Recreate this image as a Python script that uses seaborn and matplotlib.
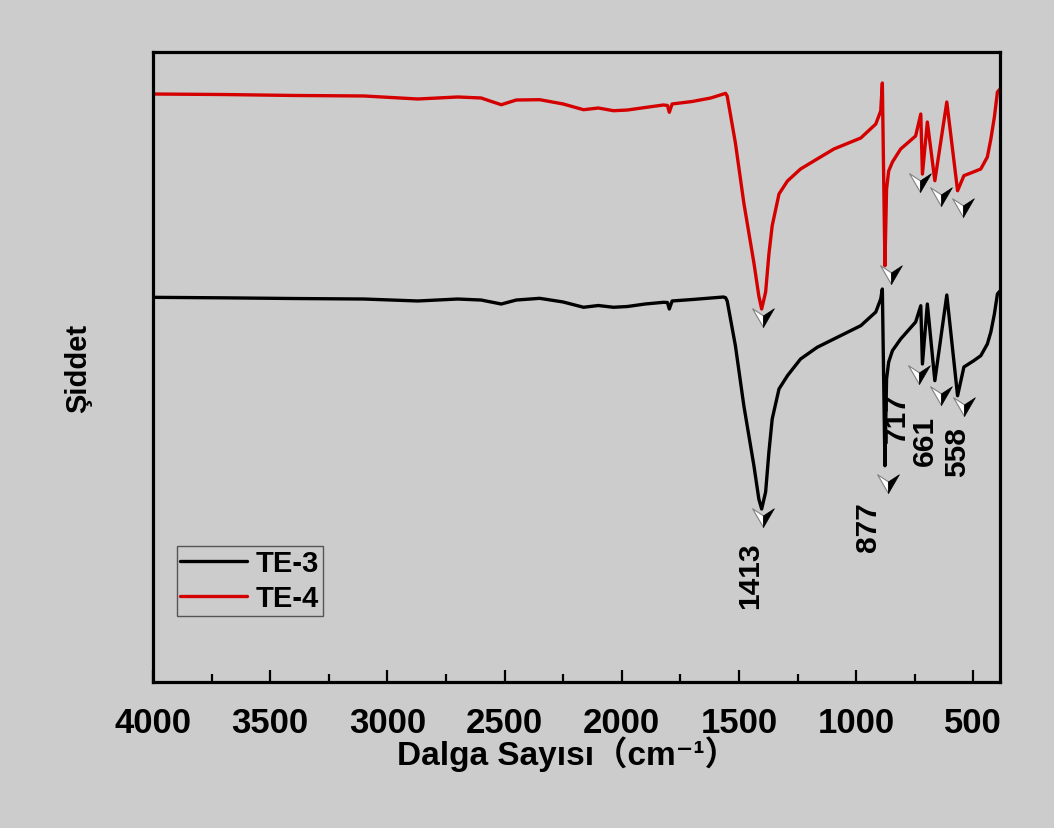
import numpy as np
import pandas as pd
import matplotlib
matplotlib.use("Agg")
import matplotlib.pyplot as plt
from matplotlib.path import Path
from matplotlib.ticker import MultipleLocator
import seaborn as sns

# ---------------- data ----------------
wavenumber = [4000, 3700, 3400, 3100, 2870, 2700, 2600, 2514, 2450, 2350, 2250, 2163,
              2100, 2035, 1976, 1900, 1822, 1805, 1797, 1785, 1700, 1620, 1566, 1557,
              1550, 1515, 1479, 1436, 1415, 1403, 1386, 1372, 1358, 1329, 1293, 1237,
              1166, 1095, 980, 916, 895, 888, 877, 870, 861, 845, 810, 746, 724, 717,
              696, 664, 613, 567, 540, 500, 468, 440, 425, 410, 397, 386]

te3 = [61.06, 60.98, 60.87, 60.79, 60.48, 60.79, 60.63, 60.00, 60.63, 60.90, 60.32, 59.48,
       59.76, 59.48, 59.60, 60.00, 60.27, 60.24, 59.21, 60.48, 60.71, 60.95, 61.11, 61.00,
       60.48, 53.38, 43.86, 34.33, 29.05, 27.46, 30.16, 36.51, 41.75, 46.51, 48.62, 51.27,
       53.13, 54.44, 56.56, 58.73, 60.79, 62.38, 34.33, 48.10, 50.79, 52.59, 54.44, 57.14,
       59.73, 50.48, 60.00, 47.83, 61.43, 45.44, 50.00, 50.95, 51.79, 53.65, 55.56, 58.41,
       61.59, 62.06]

te4 = [93.33, 93.25, 93.10, 93.02, 92.54, 92.86, 92.70, 91.63, 92.38, 92.43, 91.75, 90.84,
       91.11, 90.68, 90.79, 91.19, 91.59, 91.51, 90.43, 91.75, 92.14, 92.70, 93.33, 93.44,
       93.02, 85.56, 76.03, 66.51, 61.27, 59.21, 61.90, 67.94, 72.43, 77.46, 79.52, 81.43,
       83.02, 84.60, 86.35, 88.57, 90.63, 95.08, 66.08, 78.25, 81.11, 82.54, 84.60, 86.67,
       90.16, 80.63, 88.89, 79.57, 92.06, 77.98, 80.37, 80.95, 81.43, 83.33, 86.19, 89.68,
       93.65, 94.13]

series_names = ["TE-3", "TE-4"]
series_colors = ["#000000", "#d40000"]

# peak annotations
peak_labels = ["1413", "877", "717", "661", "558"]
peak_label_w = [1454, 948, 827, 707, 570]
peak_label_y = [17.1, 24.8, 42.1, 38.5, 36.6]

arrow_w_te3 = [1398, 862, 731, 636, 539]
arrow_y_te3 = [24.6, 30.0, 47.3, 44.0, 42.2]
arrow_w_te4 = [1398, 852, 728, 639, 546]
arrow_y_te4 = [56.3, 63.2, 77.8, 75.6, 73.8]

xticks = [4000, 3500, 3000, 2500, 2000, 1500, 1000, 500]

# ---------------- style ----------------
BG = "#cccccc"
sns.set_style("ticks", rc={"axes.facecolor": BG, "figure.facecolor": BG,
                           "axes.edgecolor": "black", "text.color": "black",
                           "axes.labelcolor": "black", "xtick.color": "black",
                           "ytick.color": "black"})
plt.rcParams["font.family"] = ["Liberation Sans", "DejaVu Sans", "Noto Sans CJK SC"]
plt.rcParams["font.weight"] = "bold"

df = pd.concat([
    pd.DataFrame({"w": wavenumber, "I": te3, "sample": series_names[0]}),
    pd.DataFrame({"w": wavenumber, "I": te4, "sample": series_names[1]}),
])

fig = plt.figure(figsize=(10.54, 8.29), dpi=100)
ax = fig.add_axes([153 / 1054, 1 - 683 / 829, 847 / 1054, 630 / 829])

sns.lineplot(data=df, x="w", y="I", hue="sample", hue_order=series_names,
             palette=dict(zip(series_names, series_colors)), sort=False,
             estimator=None, linewidth=2.4, ax=ax)

ax.set_xlim(4000, 386)
ax.set_ylim(0, 100)
ax.set_xticks(xticks)
ax.xaxis.set_minor_locator(MultipleLocator(250))
ax.set_yticks([])
ax.tick_params(axis="x", which="major", direction="in", length=9, width=1.6,
               labelsize=25, pad=17, top=False, colors="black")
ax.tick_params(axis="x", which="minor", direction="in", length=5.5, width=1.6, top=False)
for lab in ax.get_xticklabels():
    lab.set_fontweight("bold")
for sp in ax.spines.values():
    sp.set_linewidth(2.3)
    sp.set_color("black")

ax.set_xlabel("Dalga Sayısı（cm⁻¹）", fontsize=24, fontweight="bold", color="black")
ax.xaxis.set_label_coords((567 - 153) / 847, -0.085)
ax.set_ylabel("Şiddet", fontsize=21, fontweight="bold", color="black")
ax.yaxis.set_label_coords(-0.072, 0.5)

# arrows (two-tone arrowheads)
white_half = Path([(-0.58, 1.0), (0.0, 0.62), (0.0, 0.0), (-0.58, 1.0)],
                  [Path.MOVETO, Path.LINETO, Path.LINETO, Path.CLOSEPOLY])
black_half = Path([(0.0, 0.62), (0.58, 1.0), (0.0, 0.0), (0.0, 0.62)],
                  [Path.MOVETO, Path.LINETO, Path.LINETO, Path.CLOSEPOLY])
for aw, ay in [(arrow_w_te3, arrow_y_te3), (arrow_w_te4, arrow_y_te4)]:
    ax.plot(aw, ay, ls="none", marker=white_half, ms=27, mfc="white",
            mec="#808080", mew=0.8, zorder=5)
    ax.plot(aw, ay, ls="none", marker=black_half, ms=27, mfc="black",
            mec="black", mew=0.5, zorder=5)

for t, pw, py in zip(peak_labels, peak_label_w, peak_label_y):
    ax.text(pw, py, t, rotation=90, ha="center", va="center", fontsize=21.5,
            fontweight="bold", color="black", zorder=6)

handles, labels = ax.get_legend_handles_labels()
leg = ax.legend(handles, labels, loc="lower left", bbox_to_anchor=(0.028, 0.105),
                borderaxespad=0, frameon=True, fancybox=False, framealpha=1,
                facecolor=BG, edgecolor="#555555", handlelength=2.3,
                handletextpad=0.3, labelspacing=0.25, borderpad=0.12,
                prop={"weight": "bold", "size": 21})
leg.get_frame().set_linewidth(1.0)
for h in leg.get_lines():
    h.set_linewidth(2.4)
for t in leg.get_texts():
    t.set_color("black")

fig.savefig("out.png", dpi=100, facecolor=BG)
